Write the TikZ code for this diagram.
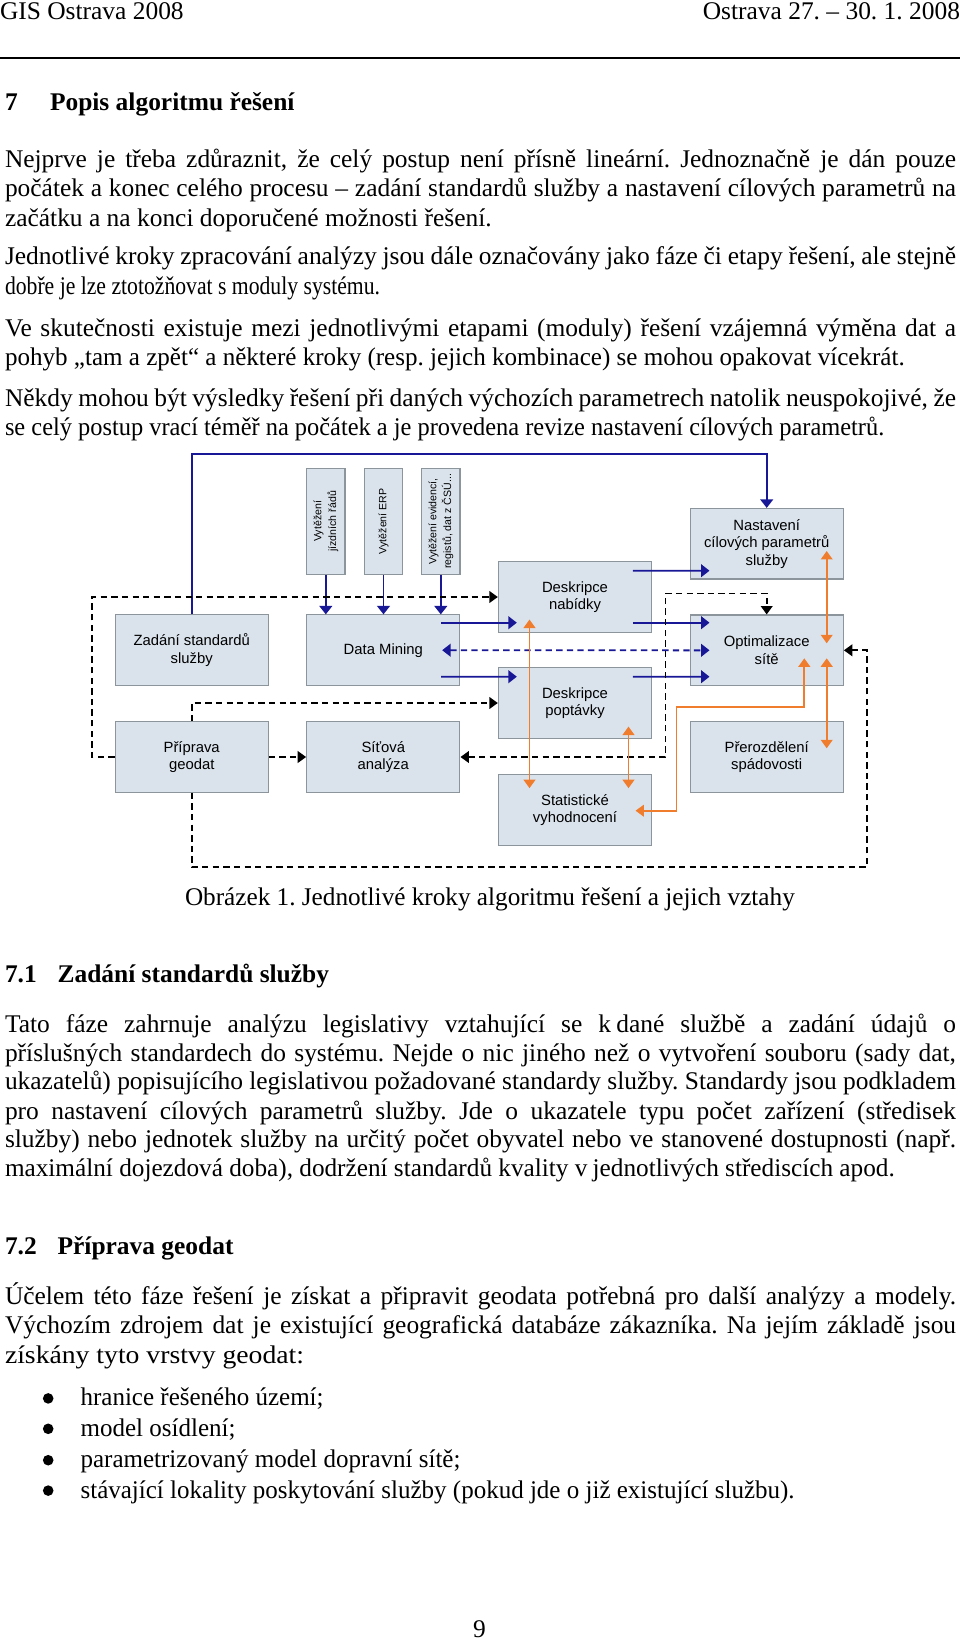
\documentclass[tikz,border=0pt]{standalone}
\usepackage{fontspec}
\setmainfont{Liberation Serif}
\newfontfamily\diagf{Liberation Sans}
\usetikzlibrary{arrows.meta,calc}
\definecolor{boxfill}{RGB}{218,227,236}
\definecolor{boxline}{RGB}{140,148,156}
\definecolor{bluel}{RGB}{24,24,150}
\definecolor{orangel}{RGB}{240,125,45}
\newlength\tw \setlength\tw{448.6pt}
\newcommand\jline[1]{\makebox[\tw][s]{#1}}
\newcommand\sline[2]{\scalebox{#1}[1]{#2}}
\frenchspacing
\begin{document}
\begin{tikzpicture}[x=0.4717pt,y=-0.4717pt,
  txt/.style={inner sep=0pt, outer sep=0pt, anchor=base west, font=\fontsize{12}{13.8}\selectfont},
  hd/.style={txt, font=\fontsize{12}{13.8}\selectfont\bfseries},
  bulletdot/.style={fill=black},
  stepbox/.style={draw=boxline, fill=boxfill, line width=0.5pt, minimum width=72.3pt, minimum height=33.3pt, inner sep=1pt, align=center, font=\diagf\fontsize{7}{8.3}\selectfont},
  vbox/.style={draw=boxline, fill=boxfill, line width=0.5pt, minimum width=18.1pt, minimum height=50pt, inner sep=0pt, font=\diagf\fontsize{5}{7}\selectfont},
  bline/.style={draw=bluel, line width=0.9pt},
  barr/.style={bline, -{Triangle[width=6pt,length=4pt]}},
  bdash/.style={bline, dash pattern=on 3pt off 2pt, {Triangle[width=6pt,length=4pt]}-{Triangle[width=6pt,length=4pt]}},
  karr/.style={draw=black, line width=0.9pt, dash pattern=on 3pt off 2pt, -{Triangle[width=5.5pt,length=4pt]}},
  kdbl/.style={draw=black, line width=0.9pt, dash pattern=on 3pt off 2pt, {Triangle[width=5.5pt,length=4pt]}-{Triangle[width=5.5pt,length=4pt]}},
  odbl/.style={draw=orangel, line width=0.9pt, {Triangle[width=5.5pt,length=4pt]}-{Triangle[width=5.5pt,length=4pt]}}
]
\useasboundingbox (0,0) rectangle (960,1642);
\fill[white] (0,0) rectangle (960,1642);

% header
\node[txt] (hl) at (0,19) {GIS Ostrava 2008};
\node[txt, anchor=base east] (hr) at (960,19) {Ostrava 27. – 30. 1. 2008};
\draw[line width=0.6pt] (0,58) -- (960,58);

% section 7
\node[hd] (s7n) at (5,110) {7};
\node[hd] (s7t) at (50,110) {Popis algoritmu řešení};

\node[txt] (a1) at (5,167.5) {\jline{Nejprve je třeba zdůraznit, že celý postup není přísně lineární. Jednoznačně je dán pouze}};
\node[txt] (a2) at (5,196.8) {\jline{počátek a konec celého procesu – zadání standardů služby a nastavení cílových parametrů na}};
\node[txt] (a3) at (5,226.1) {začátku a na konci doporučené možnosti řešení.};
\node[txt] (b1) at (5,264.8) {\jline{Jednotlivé kroky zpracování analýzy jsou dále označovány jako fáze či etapy řešení, ale stejně}};
\node[txt] (b2) at (5,294.1) {\sline{0.852}{dobře je lze ztotožňovat s moduly systému.}};
\node[txt] (c1) at (5,336.0) {\jline{Ve skutečnosti existuje mezi jednotlivými etapami (moduly) řešení vzájemná výměna dat a}};
\node[txt] (c2) at (5,365.3) {\sline{0.985}{pohyb „tam a zpět“ a některé kroky (resp. jejich kombinace) se mohou opakovat vícekrát.}};
\node[txt] (d1) at (5,406.2) {\jline{Někdy mohou být výsledky řešení při daných výchozích parametrech natolik neuspokojivé, že}};
\node[txt] (d2) at (5,435.5) {\sline{0.959}{se celý postup vrací téměř na počátek a je provedena revize nastavení cílových parametrů.}};

% diagram boxes
\node[stepbox] (zad) at (191.7,650.2) {Zadání standardů\\služby};
\node[stepbox] (dm) at (383.3,650.2) {Data Mining};
\node[stepbox] (prip) at (191.7,757) {Příprava\\geodat};
\node[stepbox] (sit) at (383.3,757) {Síťová\\analýza};
\node[stepbox] (nab) at (575,597) {Deskripce\\nabídky};
\node[stepbox] (pop) at (575,703) {Deskripce\\poptávky};
\node[stepbox] (stat) at (575,810) {Statistické\\vyhodnocení};
\node[stepbox] (nast) at (766.7,543.7) {Nastavení\\cílových parametrů\\služby};
\node[stepbox] (opt) at (766.7,650.3) {Optimalizace\\sítě};
\node[stepbox] (prer) at (766.7,757) {Přerozdělení\\spádovosti};
\node[vbox] (v1) at (325.8,521.3) {\rotatebox{90}{\begin{tabular}{@{}c@{}}Vytěžení\\jízdních řádů\end{tabular}}};
\node[vbox] (v2) at (383.5,521.3) {\rotatebox{90}{\begin{tabular}{@{}c@{}}Vytěžení ERP\end{tabular}}};
\node[vbox] (v3) at (440.8,521.3) {\rotatebox{90}{\begin{tabular}{@{}c@{}}Vytěžení evidencí,\\registů, dat z ČSÚ...\end{tabular}}};

% blue connectors
\coordinate (topy) at (0,454.3);
\draw[barr] (zad.north) -- (zad.north |- topy) -| (nast.north);
\draw[barr] (v1.south) -- (v1.south |- dm.north);
\draw[barr] (v2.south) -- (v2.south |- dm.north);
\draw[barr] (v3.south) -- (v3.south |- dm.north);
\draw[barr] ($(dm.east)+(-19.3,-27.5)$) -- ($(nab.west)+(19,25.7)$);
\draw[barr] ($(dm.east)+(-19.3,26.5)$) -- ($(pop.west)+(19,-26.3)$);
\draw[barr] ($(nab.east)+(-19.4,-26.3)$) -- ($(nast.west)+(20,27)$);
\draw[barr] ($(nab.east)+(-19.4,25.7)$) -- ($(opt.west)+(20,-27.6)$);
\draw[barr] ($(pop.east)+(-19.4,-26.3)$) -- ($(opt.west)+(20,26.4)$);
\draw[bdash] ($(dm.east)+(-18.3,0)$) -- ($(opt.west)+(20,0)$);

% black dashed connectors
\draw[karr] (prip.west) -- ++(-22.3,0) |- (nab.west);
\draw[karr] (prip.north) |- (pop.west);
\draw[karr] (prip.east) -- (sit.west);
\draw[karr] (prip.south) -- ++(0,74.4) -| ($(opt.east)+(22.7,0)$) -- (opt.east);
\draw[kdbl] (sit.east) -- ++(205,0) |- ($(opt.north)+(0,-21)$) -- (opt.north);

% orange connectors
\draw[odbl] ($(nab.south)+(-45.5,-13.3)$) -- ($(stat.north)+(-45.5,14)$);
\draw[odbl] ($(pop.south)+(53.5,-12.3)$) -- ($(stat.north)+(53.5,14)$);
\draw[odbl] ($(nast.center)+(60,7.3)$) -- ($(opt.center)+(60,-7)$);
\draw[odbl] ($(opt.center)+(37.6,8)$) |- ($(stat.east)+(24.3,-103.3)$) |- ($(stat.east)+(-16.7,0.7)$);
\draw[odbl] ($(opt.center)+(60,8)$) -- ($(prer.center)+(60,-8.7)$);

\node[txt] (cap) at (185,905) {\sline{0.991}{Obrázek 1. Jednotlivé kroky algoritmu řešení a jejich vztahy}};

% section 7.1
\node[hd] (s71n) at (5,982) {7.1};
\node[hd] (s71t) at (57.6,982) {Zadání standardů služby};
\node[txt] (e1) at (5,1032.2) {\jline{Tato fáze zahrnuje analýzu legislativy vztahující se k\hspace{2.5pt}dané službě a zadání údajů o}};
\node[txt] (e2) at (5,1061.5) {\jline{příslušných standardech do systému. Nejde o nic jiného než o vytvoření souboru (sady dat,}};
\node[txt] (e3) at (5,1089.8) {\jline{ukazatelů) popisujícího legislativou požadované standardy služby. Standardy jsou podkladem}};
\node[txt] (e4) at (5,1119.1) {\jline{pro nastavení cílových parametrů služby. Jde o ukazatele typu počet zařízení (středisek}};
\node[txt] (e5) at (5,1147.4) {\jline{služby) nebo jednotek služby na určitý počet obyvatel nebo ve stanovené dostupnosti (např.}};
\node[txt] (e6) at (5,1176.7) {\sline{0.992}{maximální dojezdová doba), dodržení standardů kvality v\hspace{2.5pt}jednotlivých střediscích apod.}};

% section 7.2
\node[hd] (s72n) at (5,1254.1) {7.2};
\node[hd] (s72t) at (57.6,1254.1) {Příprava geodat};
\node[txt] (f1) at (5,1304.4) {\jline{Účelem této fáze řešení je získat a připravit geodata potřebná pro další analýzy a modely.}};
\node[txt] (f2) at (5,1333.7) {\jline{Výchozím zdrojem dat je existující geografická databáze zákazníka. Na jejím základě jsou}};
\node[txt] (f3) at (5,1363.0) {\sline{1.088}{získány tyto vrstvy geodat:}};

\fill[bulletdot] (48.2,1398.4) circle[radius=2.5pt];
\node[txt] (g1) at (80.6,1405.9) {\sline{0.983}{hranice řešeného území;}};
\fill[bulletdot] (48.2,1428.8) circle[radius=2.5pt];
\node[txt] (g2) at (80.6,1436.3) {\sline{0.983}{model osídlení;}};
\fill[bulletdot] (48.2,1460.2) circle[radius=2.5pt];
\node[txt] (g3) at (80.6,1467.7) {\sline{0.983}{parametrizovaný model dopravní sítě;}};
\fill[bulletdot] (48.2,1490.6) circle[radius=2.5pt];
\node[txt] (g4) at (80.6,1498.1) {\sline{0.983}{stávající lokality poskytování služby (pokud jde o již existující službu).}};

\node[txt, anchor=base] (pg) at (479.5,1637) {9};
\end{tikzpicture}
\end{document}
